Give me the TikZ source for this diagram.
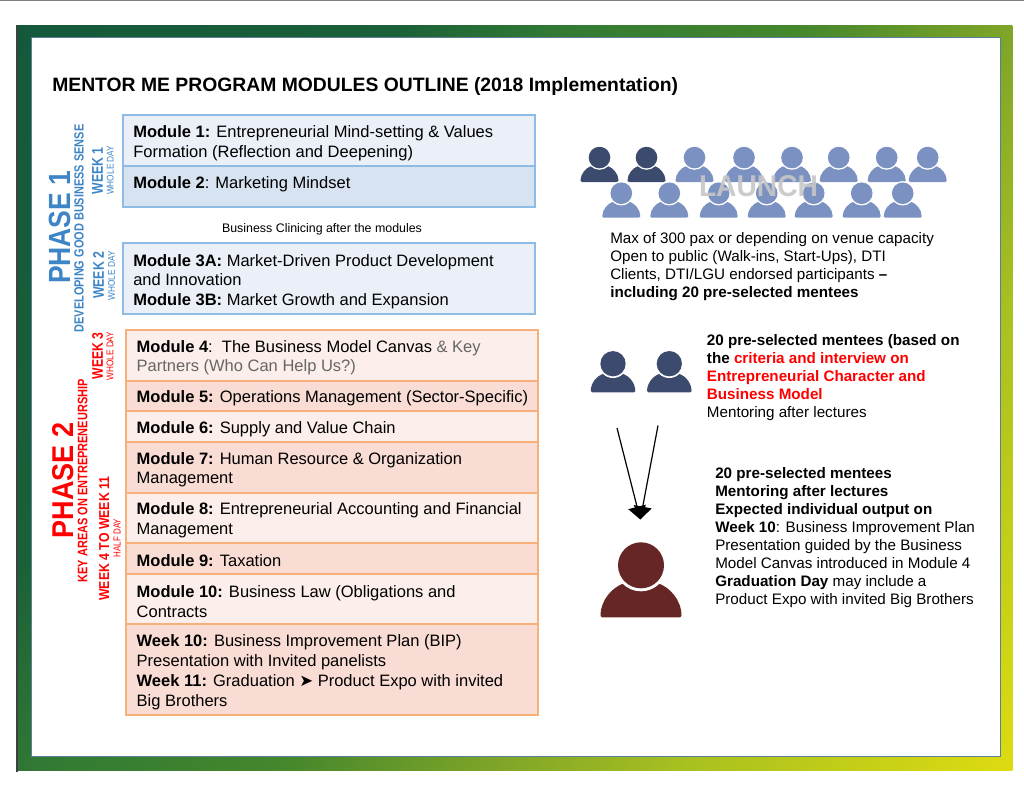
\documentclass[tikz,border=0pt]{standalone}
\usepackage{fontspec}
\usepackage{graphicx}
\setmainfont{Liberation Sans}
\newfontfamily\arrowfont{DejaVu Sans}
\usetikzlibrary{arrows.meta}
\definecolor{blueline}{HTML}{8EBCE6}
\definecolor{bluea}{HTML}{EBF0F8}
\definecolor{blueb}{HTML}{D7E3F1}
\definecolor{orline}{HTML}{F7B178}
\definecolor{ora}{HTML}{FCEEEA}
\definecolor{orb}{HTML}{F9DCD4}
\definecolor{phaseblue}{HTML}{3D85C6}
\definecolor{phasered}{HTML}{FF0000}
\definecolor{softgray}{HTML}{666666}
\definecolor{pdark}{HTML}{3C4A6E}
\definecolor{plight}{HTML}{7B91C1}
\definecolor{pmaroon}{HTML}{662626}
\definecolor{frameedge}{HTML}{5A7F96}
\definecolor{gradA}{HTML}{14593B}
\definecolor{gradB}{HTML}{1A6038}
\definecolor{gradC}{HTML}{327A34}
\definecolor{gradD}{HTML}{45872C}
\definecolor{gradE}{HTML}{7FA528}
\definecolor{gradF}{HTML}{A8C020}
\definecolor{gradG}{HTML}{DEDC10}
\pgfdeclareverticalshading{framegrad}{100bp}{
  color(0bp)=(gradA);
  color(26bp)=(gradA);
  color(38bp)=(gradB);
  color(43.3bp)=(gradC);
  color(50.9bp)=(gradD);
  color(57.5bp)=(gradE);
  color(63.5bp)=(gradF);
  color(74bp)=(gradG);
  color(100bp)=(gradG)}
\newdimen\pxunit
\pxunit=0.75pt
\tikzset{
  bluebox/.style={draw=blueline,line width=1.5pt,outer sep=0pt,inner sep=0pt,anchor=north west,minimum width=412*0.75pt},
  orbox/.style={draw=orline,line width=1.5pt,outer sep=0pt,inner sep=0pt,anchor=north west,minimum width=412*0.75pt},
  modtext/.style={anchor=west,align=left,inner sep=0pt,yshift=-1.5pt,font=\fontsize{12.38}{14.8}\selectfont},
  sidetext/.style={anchor=west,align=left,inner sep=0pt,yshift=-1.5pt,font=\fontsize{11.4}{13.5}\selectfont},
  vlabel/.style={rotate=90,inner sep=0pt,anchor=center,font=\bfseries},
  pics/person/.style={code={
    \fill[#1,rounded corners=1pt] (-40.5,0) .. controls (-40.5,-18) and (-28,-30) .. (-17,-34) -- (17,-34) .. controls (28,-30) and (40.5,-18) .. (40.5,0) -- cycle;
    \fill[white] (0,-52) circle[radius=26];
    \fill[#1] (0,-52) circle[radius=23];
  }}
}
\newcommand{\sized}[3]{\resizebox{#1\pxunit}{#2\pxunit}{#3}}
\begin{document}
\begin{tikzpicture}[x=0.75pt,y=-0.75pt]
\useasboundingbox (0,0) rectangle (1024,796);
\fill[white] (0,0) rectangle (1024,796);
\fill[gray] (0,0) rectangle (1024,0.8);
% frame
\begin{scope}
  \clip (16.4,25) rectangle (1012.3,770);
  \shade[shading=framegrad,shading angle=235]
     (-136,-252) rectangle (1164,1048);
\end{scope}
\fill[black!75] (16,25) rectangle (18,772);
\fill[white,draw=frameedge,line width=0.8pt] (31.5,37.5) rectangle (1000.5,756.5);
% title
\node[anchor=west,inner sep=0pt,yshift=-1.8pt,font=\fontsize{14.5}{18}\selectfont\bfseries] (title) at (52,84.5) {MENTOR ME PROGRAM MODULES OUTLINE (2018 Implementation)};
% blue boxes
\node[bluebox,fill=bluea,minimum height=50.4*0.75pt] (b1) at (122.5,115.3) {};
\node[bluebox,fill=blueb,minimum height=41.3*0.75pt] (b2) at (122.5,165.7) {};
\node[bluebox,fill=bluea,minimum height=70.7*0.75pt] (b3) at (122.5,243.3) {};
\node[modtext] (t1) at (133,141.5) {\textbf{Module 1:} Entrepreneurial Mind-setting \& Values\\Formation (Reflection and Deepening)};
\node[modtext] (t2) at (133,182.7) {\textbf{Module 2}: Marketing Mindset};
\node[modtext] (t3) at (133,279.5) {\textbf{Module 3A:} Market-Driven Product Development\\and Innovation\\\textbf{Module 3B:} Market Growth and Expansion};
\node[inner sep=0pt,yshift=-1.5pt,font=\fontsize{9.3}{11}\selectfont] (clin) at (322,227.7) {Business Clinicing after the modules};
% orange boxes
\node[orbox,fill=ora,minimum height=50.7*0.75pt] (o4) at (125.7,330) {};
\node[orbox,fill=orb,minimum height=30.6*0.75pt] (o5) at (125.7,380.7) {};
\node[orbox,fill=ora,minimum height=30.7*0.75pt] (o6) at (125.7,411.3) {};
\node[orbox,fill=orb,minimum height=50.7*0.75pt] (o7) at (125.7,442) {};
\node[orbox,fill=ora,minimum height=50.3*0.75pt] (o8) at (125.7,492.7) {};
\node[orbox,fill=orb,minimum height=31*0.75pt] (o9) at (125.7,543) {};
\node[orbox,fill=ora,minimum height=50.3*0.75pt] (o10) at (125.7,574) {};
\node[orbox,fill=orb,minimum height=90.7*0.75pt] (o11) at (125.7,624.3) {};
\node[modtext] (t4) at (136.4,355.6) {\textbf{Module 4}:\ \ The Business Model Canvas \textcolor{softgray}{\& Key}\\\textcolor{softgray}{Partners (Who Can Help Us?)}};
\node[modtext] (t5) at (136.4,396.7) {\textbf{Module 5:} Operations Management (Sector-Specific)};
\node[modtext] (t6) at (136.4,427.3) {\textbf{Module 6:} Supply and Value Chain};
\node[modtext] (t7) at (136.4,467.8) {\textbf{Module 7:} Human Resource \& Organization\\Management};
\node[modtext] (t8) at (136.4,518.2) {\textbf{Module 8:} Entrepreneurial Accounting and Financial\\Management};
\node[modtext] (t9) at (136.4,559) {\textbf{Module 9:} Taxation};
\node[modtext] (t10) at (136.4,599.5) {\textbf{Module 10:} Business Law (Obligations and\\Contracts};
\node[modtext] (t11) at (136.4,670.3) {\textbf{Week 10:} Business Improvement Plan (BIP)\\Presentation with Invited panelists\\\textbf{Week 11:} Graduation {\arrowfont ➤} Product Expo with invited\\Big Brothers};
% rotated labels
\node[vlabel,text=phaseblue] (ph1) at (59.5,227.3) {\sized{113.3}{21.4}{PHASE 1}};
\node[vlabel,text=phaseblue] (ph1s) at (79,228.5) {\sized{208}{9.3}{DEVELOPING GOOD BUSINESS SENSE}};
\node[vlabel,text=phaseblue] (w1) at (97.5,170.8) {\sized{47}{10.7}{WEEK 1}};
\node[vlabel,text=phaseblue,font=\normalfont] (w1d) at (110.3,170.3) {\sized{49.3}{6.8}{WHOLE DAY}};
\node[vlabel,text=phaseblue] (w2) at (98.6,275.3) {\sized{47.3}{10.7}{WEEK 2}};
\node[vlabel,text=phaseblue,font=\normalfont] (w2d) at (111.4,275.7) {\sized{49.3}{6.8}{WHOLE DAY}};
\node[vlabel,text=phasered] (w3) at (97.5,356) {\sized{46.7}{10.7}{WEEK 3}};
\node[vlabel,text=phasered,font=\normalfont] (w3d) at (110,356) {\sized{48.6}{6.8}{WHOLE DAY}};
\node[vlabel,text=phasered] (ph2) at (62.7,480.5) {\sized{115.7}{21}{PHASE 2}};
\node[vlabel,text=phasered] (ph2s) at (82.7,480.8) {\sized{203}{9.6}{KEY AREAS ON ENTREPRENEURSHIP}};
\node[vlabel,text=phasered] (w4) at (104.3,538.7) {\sized{124}{10}{WEEK 4 TO WEEK 11}};
\node[vlabel,text=phasered,font=\normalfont] (w4d) at (117,538) {\sized{38.3}{7}{HALF DAY}};
% people
\foreach \nm/\px in {a/599.5,b/646.5} \pic (top\nm) [scale=0.47] at (\px,182) {person=pdark};
\foreach \nm/\px in {c/694.5,d/744,e/792,f/838.7,g/886.7,h/927.7} \pic (top\nm) [scale=0.47] at (\px,182) {person=plight};
\foreach \nm/\px in {a/621.3,b/669.3,c/718.7,d/766.7,e/813.7,f/861.7,g/902.7} \pic (low\nm) [scale=0.47] at (\px,217.7) {person=plight};
\node[inner sep=0pt,text=black!22,opacity=0.9] (launch) at (758.5,185.7) {\sized{119}{21}{\bfseries LAUNCH}};
\pic (ma) [scale=0.55] at (613,392.3) {person=pdark};
\pic (mb) [scale=0.55] at (669.3,392.3) {person=pdark};
\pic (big) [scale=1] at (641,617.3) {person=pmaroon};
% right texts
\node[sidetext] (s1) at (610,264.9) {Max of 300 pax or depending on venue capacity\\Open to public (Walk-ins, Start-Ups), DTI\\Clients, DTI/LGU endorsed participants \textbf{--}\\\textbf{including 20 pre-selected mentees}};
\node[sidetext] (s2) at (706.7,375.3) {\textbf{20 pre-selected mentees (based on}\\\textbf{the \textcolor{phasered}{criteria and interview on}}\\\textbf{\textcolor{phasered}{Entrepreneurial Character and}}\\\textbf{\textcolor{phasered}{Business Model}}\\Mentoring after lectures};
\node[sidetext] (s3) at (715,536) {\textbf{20 pre-selected mentees}\\\textbf{Mentoring after lectures}\\\textbf{Expected individual output on}\\\textbf{Week 10}: Business Improvement Plan\\Presentation guided by the Business\\Model Canvas introduced in Module 4\\\textbf{Graduation Day} may include a\\Product Expo with invited Big Brothers};
% arrows
\coordinate (fromL) at (617,428);
\coordinate (fromR) at (658,425.5);
\coordinate (tip) at (640.3,519.5);
\draw[line width=0.9pt,-{Triangle[width=18*0.75pt,length=13*0.75pt]}] (fromL) -- (tip);
\draw[line width=0.9pt,-{Triangle[width=18*0.75pt,length=13*0.75pt]}] (fromR) -- (tip);
\end{tikzpicture}
\end{document}
